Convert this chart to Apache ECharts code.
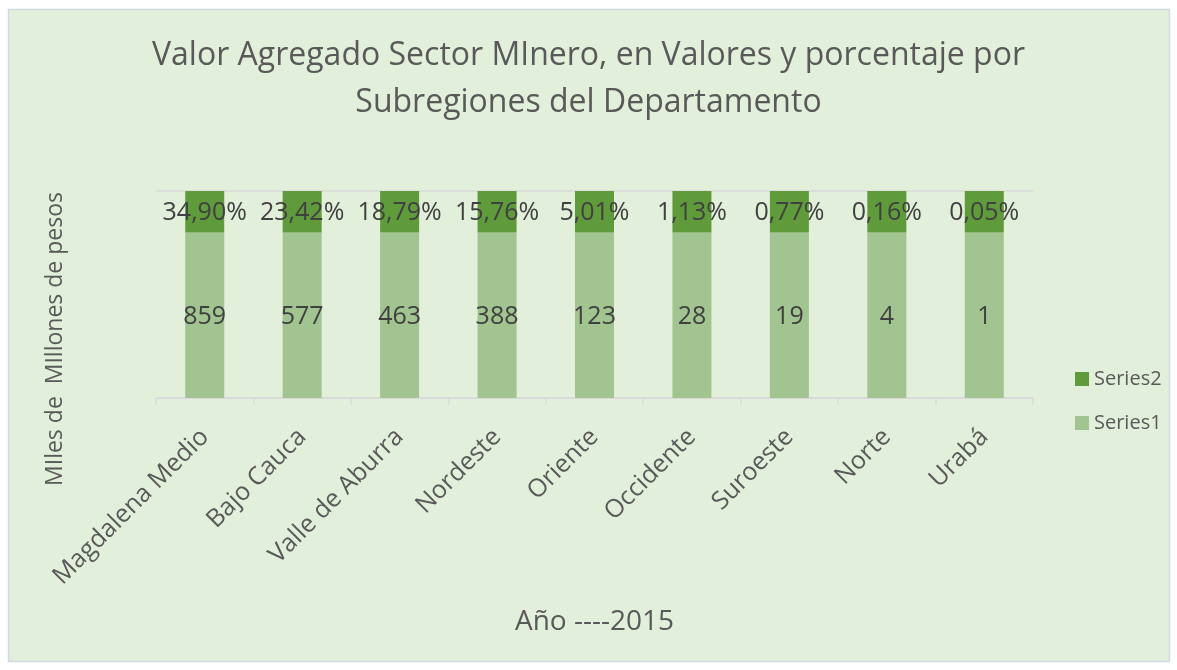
<!DOCTYPE html>
<html>
<head>
<meta charset="utf-8">
<script src="https://cdn.jsdelivr.net/npm/echarts@6/dist/echarts.min.js"></script>
<style>
  html, body { margin: 0; padding: 0; background: #ffffff; }
  #chart { width: 1177px; height: 670px; }
</style>
</head>
<body>
<div id="chart"></div>
<script>
// subregiones del departamento
var subregiones = ['Magdalena Medio', 'Bajo Cauca', 'Valle de Aburra', 'Nordeste', 'Oriente',
    'Occidente', 'Suroeste', 'Norte', 'Urabá'];
// valor agregado (miles de millones de pesos)
var valores = [859, 577, 463, 388, 123, 28, 19, 4, 1];
// participacion porcentual
var porcentajes = [34.90, 23.42, 18.79, 15.76, 5.01, 1.13, 0.77, 0.16, 0.05];
// alto de cada tramo de la columna (escala 0-100)
var altoSerie1 = [80, 80, 80, 80, 80, 80, 80, 80, 80];
var altoSerie2 = [20, 20, 20, 20, 20, 20, 20, 20, 20];

var fuente = '"Open Sans", sans-serif';
var colorTexto = '#404040';

var myChart = echarts.init(document.getElementById('chart'));
var option = {
    backgroundColor: '#ffffff',
    animation: false,
    color: ['#a1c490', '#5f9a3b'],
    title: {
        text: 'Valor Agregado Sector MInero, en Valores y porcentaje por\nSubregiones del Departamento',
        left: 'center',
        top: 27,
        textStyle: {
            fontFamily: fuente,
            fontSize: 32,
            fontWeight: 'normal',
            color: '#595959',
            lineHeight: 47
        }
    },
    legend: {
        orient: 'vertical',
        left: 1070,
        top: 364,
        itemWidth: 14,
        itemHeight: 14,
        itemGap: 24,
        icon: 'rect',
        data: ['Series2', 'Series1'],
        textStyle: { fontFamily: fuente, fontSize: 20, color: '#595959' }
    },
    grid: { left: 156, right: 144, top: 191, bottom: 272 },
    xAxis: {
        type: 'category',
        data: subregiones,
        name: 'Año ----2015',
        nameLocation: 'middle',
        nameGap: 210,
        nameTextStyle: { fontFamily: fuente, fontSize: 28, color: '#595959' },
        axisLine: { lineStyle: { color: '#d9d9d9', width: 1.5 } },
        axisTick: { show: true, length: 7, lineStyle: { color: '#d9d9d9', width: 1.5 } },
        axisLabel: {
            rotate: 45,
            margin: 35,
            fontFamily: fuente,
            fontSize: 25,
            color: '#595959'
        }
    },
    yAxis: {
        type: 'value',
        min: 0,
        max: 100,
        interval: 100,
        axisLabel: { show: false },
        axisLine: { show: false },
        axisTick: { show: false },
        splitLine: { lineStyle: { color: '#d9d9d9', width: 1.5 } }
    },
    graphic: [
        {
            type: 'rect',
            z: -10,
            shape: { x: 8.5, y: 9.5, width: 1161, height: 652 },
            style: { fill: '#e2efda', stroke: '#d3d9e3', lineWidth: 1.5 }
        },
        {
            type: 'text',
            z: 10,
            x: 55,
            y: 339,
            rotation: Math.PI / 2,
            style: {
                text: 'MIles de  MIllones de pesos',
                fontFamily: fuente,
                fontSize: 23,
                fill: '#595959',
                textAlign: 'center',
                textVerticalAlign: 'middle'
            }
        }
    ],
    series: [
        {
            name: 'Series1',
            type: 'bar',
            stack: 'total',
            barWidth: 39,
            data: altoSerie1,
            label: {
                show: true,
                position: 'inside',
                offset: [0, 2],
                fontFamily: fuente,
                fontSize: 25,
                color: colorTexto,
                formatter: function(p){ return String(valores[p.dataIndex]); }
            }
        },
        {
            name: 'Series2',
            type: 'bar',
            stack: 'total',
            barWidth: 39,
            data: altoSerie2,
            label: {
                show: true,
                position: 'inside',
                offset: [0, 1],
                fontFamily: fuente,
                fontSize: 25,
                color: colorTexto,
                formatter: function(p){ return porcentajes[p.dataIndex].toFixed(2).replace('.', ',') + '%'; }
            }
        }
    ]
};
myChart.setOption(option);
</script>
</body>
</html>
